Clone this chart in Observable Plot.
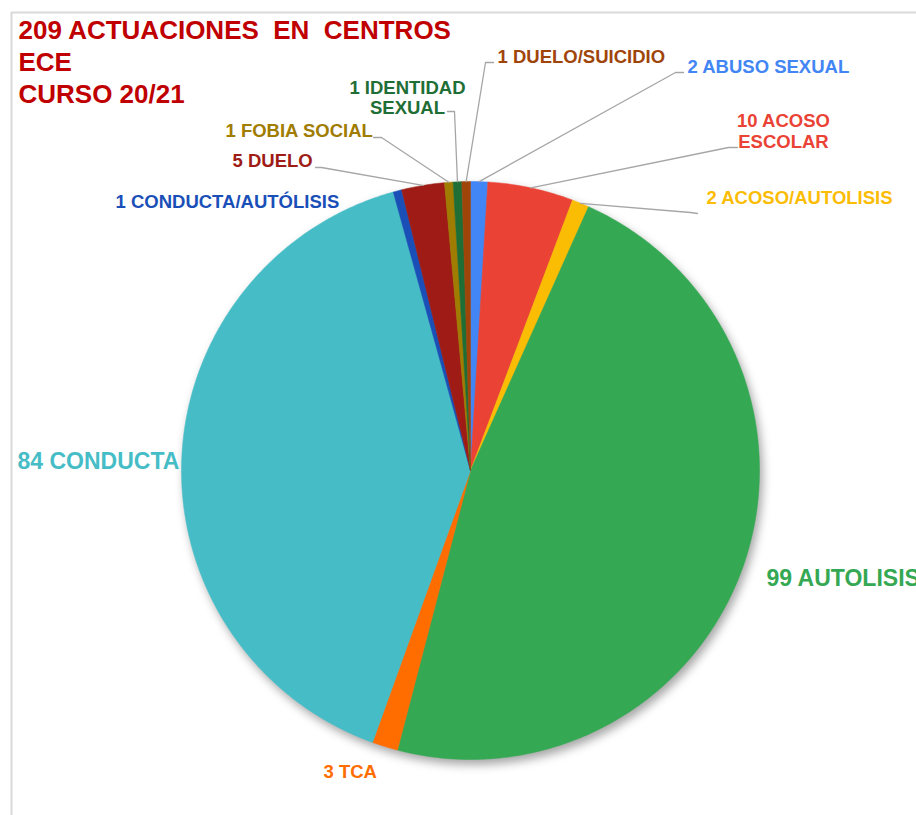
<!DOCTYPE html>
<html>
<head>
<meta charset="utf-8">
<script src="https://cdn.jsdelivr.net/npm/d3@7"></script>
<script src="https://cdn.jsdelivr.net/npm/@observablehq/plot@0.6"></script>
<style>
  html, body { margin: 0; padding: 0; background: #fff; overflow: hidden; }
  #chart svg { display: block; }
</style>
</head>
<body>
<div id="chart"></div>
<script>
// ---- Data (clockwise from 12 o'clock) ----
const categories = ["ABUSO SEXUAL", "ACOSO ESCOLAR", "ACOSO/AUTOLISIS", "AUTOLISIS", "TCA", "CONDUCTA",
  "CONDUCTA/AUTÓLISIS", "DUELO", "FOBIA SOCIAL", "IDENTIDAD SEXUAL", "DUELO/SUICIDIO"];
const values = [2, 10, 2, 99, 3, 84, 1, 5, 1, 1, 1];
const labelTexts = ["2 ABUSO SEXUAL", "10 ACOSO\nESCOLAR", "2 ACOSO/AUTOLISIS", "99 AUTOLISIS", "3 TCA", "84 CONDUCTA",
  "1 CONDUCTA/AUTÓLISIS", "5 DUELO", "1 FOBIA SOCIAL", "1 IDENTIDAD\nSEXUAL", "1 DUELO/SUICIDIO"];
const titleLines = ["209 ACTUACIONES  EN  CENTROS", "ECE", "CURSO 20/21"];

// ---- Styles / layout ----
const colors = ["#4285F4", "#EA4335", "#FBBC04", "#34A853", "#FF6D01", "#46BDC6",
  "#1A4FB8", "#9E1C15", "#A07C00", "#1F6E36", "#A0450A"];
const cx = 470, cy = 470, R = 289;
// label anchor positions [x, y, textAnchor, fontSize, lineHeight]
const labelPos = [
  [687, 66, "start", 18.5, 1.1], [783, 130, "middle", 18.5, 1.14], [706, 197, "start", 18.5, 1.1],
  [766, 577, "start", 23, 1.1], [323, 771, "start", 18.5, 1.1], [17, 460, "start", 23, 1.1],
  [115, 201, "start", 18.5, 1.1], [232, 160, "start", 18.5, 1.1], [225, 130, "start", 18.5, 1.1],
  [407, 97, "middle", 18.5, 1.08], [497, 56, "start", 18.5, 1.1]
];
// leader lines: [elbow, end] or null
const leaderPts = [
  [[675, 72], [683, 72]], [[728, 147], [737, 147]], [[690, 212], [697, 213]], null, null,
  null, null, [[321, 167], [315, 167]], [[381, 137], [373, 137]], [[454, 111], [447, 111]], [[485, 62], [493, 62]]
];

// ---- Build slices ----
const total = d3.sum(values);
const slices = [];
const leaders = [];
let cum = 0;
values.forEach((v, i) => {
  const a0 = cum / total * 2 * Math.PI;
  const a1 = (cum + v) / total * 2 * Math.PI;
  cum += v;
  const n = Math.max(2, Math.ceil((a1 - a0) / 0.01));
  slices.push({cat: categories[i], x: cx, y: cy});
  for (let k = 0; k <= n; k++) {
    const a = a0 + (a1 - a0) * k / n;
    slices.push({cat: categories[i], x: cx + R * Math.sin(a), y: cy - R * Math.cos(a)});
  }
  slices.push({cat: categories[i], x: cx, y: cy});
  if (leaderPts[i]) {
    const am = (a0 + a1) / 2;
    leaders.push({cat: categories[i], x: cx + R * Math.sin(am), y: cy - R * Math.cos(am)});
    leaderPts[i].forEach(p => leaders.push({cat: categories[i], x: p[0], y: p[1]}));
  }
});
const labels = categories.map((c, i) => ({
  cat: c, text: labelTexts[i], x: labelPos[i][0], y: labelPos[i][1], anchor: labelPos[i][2],
  size: labelPos[i][3], lh: labelPos[i][4], color: colors[i]
}));
const titles = titleLines.map((t, i) => ({text: t, x: 18, y: 30 + i * 32}));

const font = "'Liberation Sans', Arial, sans-serif";
const labelMarks = labels.map(d => Plot.text([d], {x: "x", y: "y", text: "text", fill: d.color,
  textAnchor: d.anchor, fontSize: d.size, fontWeight: "bold", lineHeight: d.lh}));
const plot = Plot.plot({
  width: 916, height: 815,
  margin: 0,
  x: {domain: [0, 916], range: [0, 916], axis: null},
  y: {domain: [0, 815], range: [0, 815], axis: null},
  color: {domain: categories, range: colors},
  style: {fontFamily: font, background: "#fff"},
  marks: [
    Plot.ruleX([11], {y1: 12, y2: 815, stroke: "#d9d9d9", strokeWidth: 2}),
    Plot.ruleY([12], {x1: 11, x2: 916, stroke: "#d9d9d9", strokeWidth: 2}),
    Plot.line(slices, {x: "x", y: "y", z: "cat", fill: "cat", stroke: "cat", strokeWidth: 0.5, curve: "linear"}),
    Plot.line(leaders, {x: "x", y: "y", z: "cat", stroke: "#a6a6a6", strokeWidth: 1.3}),
    ...labelMarks,
    Plot.text(titles, {x: "x", y: "y", text: "text", fill: "#C00000", textAnchor: "start",
      fontSize: 26, fontWeight: "bold"})
  ]
});
document.getElementById("chart").appendChild(plot);
// soft shadow under the pie
const gs = plot.querySelectorAll("g[aria-label='line']");
if (gs.length) gs[0].style.filter = "drop-shadow(3px 5px 5px rgba(0,0,0,0.35))";
</script>
</body>
</html>
